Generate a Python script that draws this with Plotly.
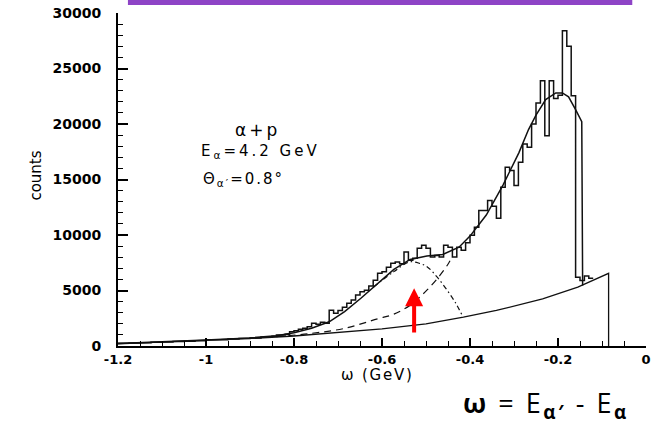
import plotly.graph_objects as go

# ---------------- data ----------------
# histogram: left bin edges (GeV) and counts
hist_left = [-1.200, -1.175, -1.150, -1.125, -1.100, -1.075, -1.050, -1.025,
             -1.000, -0.975, -0.950, -0.925, -0.900, -0.875,
             -0.85, -0.84, -0.83, -0.82, -0.81, -0.80, -0.79, -0.78, -0.77, -0.76,
             -0.75, -0.74, -0.73, -0.72, -0.71, -0.70, -0.69, -0.68, -0.67, -0.66,
             -0.65, -0.64, -0.63, -0.62, -0.61, -0.60, -0.59, -0.58, -0.57, -0.56,
             -0.55, -0.54, -0.53, -0.52, -0.51, -0.50, -0.49, -0.48, -0.47, -0.46,
             -0.45, -0.44, -0.43, -0.42, -0.41, -0.40, -0.39, -0.38, -0.37, -0.36,
             -0.35, -0.34, -0.33, -0.32, -0.31, -0.30, -0.29, -0.28, -0.27, -0.26,
             -0.25, -0.24, -0.23, -0.22, -0.21, -0.20, -0.19, -0.18, -0.17, -0.16,
             -0.15, -0.14, -0.13]
hist_counts = [240, 260, 300, 330, 370, 400, 430, 480,
               560, 570, 620, 680, 730, 800,
               880, 990, 990, 1050, 1290, 1380, 1500, 1600, 1730, 2060,
               1950, 2150, 2060, 3230, 2960, 3200, 3500, 3860, 4150, 4600,
               4880, 5030, 5400, 5930, 6550, 6700, 7100, 7450, 7570, 7400,
               8470, 7720, 7900, 8800, 9070, 8800, 8020, 8150, 8020, 9070,
               8900, 8020, 8900, 8620, 9300, 9970, 10700, 12200, 12200, 13100,
               12600, 11500, 14300, 16100, 15800, 14460, 16550, 18200, 17900, 20000,
               21900, 23900, 18950, 23900, 22300, 22600, 28400, 27000, 22550, 6200,
               5900, 6300, 6100]
hist_last_edge = -0.12

# fitted total curve
fit_omega = [-1.20, -1.10, -1.00, -0.90, -0.84, -0.80, -0.76, -0.72, -0.685, -0.648,
             -0.61, -0.573, -0.536, -0.498, -0.462, -0.425, -0.40, -0.363, -0.325,
             -0.289, -0.267, -0.25, -0.228, -0.205, -0.19, -0.176, -0.16, -0.146, -0.144]
fit_counts = [230, 360, 530, 730, 930, 1200, 1600, 2180, 3100, 4300,
              5650, 6900, 7800, 8100, 8250, 8900, 9900, 11800, 14500,
              17400, 19500, 20800, 22200, 22800, 22800, 22450, 21300, 20200, 5450]

# background curve
bg_omega = [-1.20, -1.10, -1.00, -0.90, -0.80, -0.70, -0.60, -0.50, -0.415, -0.34,
            -0.235, -0.155, -0.085, -0.085]
bg_counts = [200, 340, 500, 680, 900, 1200, 1550, 2000, 2600, 3200,
             4250, 5300, 6550, 0]

# dashed component (+ background)
dash_omega = [-0.84, -0.76, -0.685, -0.61, -0.573, -0.536, -0.498, -0.468, -0.448, -0.44]
dash_counts = [850, 1140, 1590, 2450, 2870, 3680, 5030, 6380, 7500, 8100]

# dash-dot component (+ background)
dd_omega = [-0.62, -0.573, -0.538, -0.515, -0.497, -0.475, -0.452, -0.432, -0.418]
dd_counts = [5300, 6700, 7570, 7450, 7120, 6220, 5030, 3830, 2780]

# red arrow marker
arrow_omega = -0.527
arrow_base = 1080
arrow_tip = 5200

x_tickvals = [-1.2, -1.0, -0.8, -0.6, -0.4, -0.2, 0.0]
x_ticktext = ["-1.2", "-1", "-0.8", "-0.6", "-0.4", "-0.2", "0"]
y_tickvals = [0, 5000, 10000, 15000, 20000, 25000, 30000]
y_ticktext = ["0", "5000", "10000", "15000", "20000", "25000", "30000"]

# ---------------- figure ----------------
INK = "#111111"
fig = go.Figure()

hx = hist_left + [hist_last_edge]
hy = hist_counts + [hist_counts[-1]]
fig.add_trace(go.Scatter(x=hx, y=hy, mode="lines", line=dict(color=INK, width=1.5, shape="hv"),
                         hoverinfo="skip", showlegend=False))
fig.add_trace(go.Scatter(x=fit_omega, y=fit_counts, mode="lines",
                         line=dict(color=INK, width=1.5), showlegend=False))
fig.add_trace(go.Scatter(x=bg_omega, y=bg_counts, mode="lines",
                         line=dict(color=INK, width=1.3), showlegend=False))
fig.add_trace(go.Scatter(x=dash_omega, y=dash_counts, mode="lines",
                         line=dict(color=INK, width=1.2, dash="7px,5px", shape="spline"),
                         showlegend=False))
fig.add_trace(go.Scatter(x=dd_omega, y=dd_counts, mode="lines",
                         line=dict(color=INK, width=1.2, dash="5px,3px,1.5px,3px", shape="spline"),
                         showlegend=False))

fig.add_annotation(x=arrow_omega, y=arrow_tip, ax=arrow_omega, ay=arrow_base,
                   xref="x", yref="y", axref="x", ayref="y", text="", showarrow=True,
                   arrowhead=2, arrowsize=0.9, arrowwidth=4, arrowcolor="#ff0000")

xtickfont = dict(family="DejaVu Sans", size=13, color="black", weight="bold")
ytickfont = dict(family="DejaVu Sans", size=14, color="black", weight="bold")
fig.update_xaxes(range=[-1.2, 0.0], showline=True, linecolor="black", linewidth=2,
                 ticks="inside", ticklen=8, tickwidth=1.5, tickcolor="black",
                 tickvals=x_tickvals, ticktext=x_ticktext, tickfont=xtickfont,
                 ticklabelstandoff=0,
                 minor=dict(ticks="inside", ticklen=5, tickwidth=1, tickcolor="black",
                            dtick=0.05, tick0=-1.2, showgrid=False),
                 showgrid=False, zeroline=False, mirror=False)
fig.update_yaxes(range=[0, 30000], showline=True, linecolor="black", linewidth=2,
                 ticks="inside", ticklen=10, tickwidth=1.5, tickcolor="black",
                 tickvals=y_tickvals, ticktext=y_ticktext, tickfont=ytickfont,
                 ticklabelstandoff=12,
                 minor=dict(ticks="inside", ticklen=5, tickwidth=1, tickcolor="black",
                            dtick=1000, tick0=0, showgrid=False),
                 showgrid=False, zeroline=False)

# purple bar at top
fig.add_shape(type="rect", xref="paper", yref="paper", x0=0.0188, x1=0.974,
              y0=1.024, y1=1.05, fillcolor="#8E44C6", line=dict(width=0), layer="above")

lab = dict(family="DejaVu Sans", color="black")
common = dict(xref="paper", yref="paper", showarrow=False, yanchor="middle")
fig.add_annotation(x=-0.157, y=0.512, text="counts", xanchor="center",
                   textangle=-90, font=dict(size=15, **lab), **common)
fig.add_annotation(x=0.4916, y=-0.0868, xanchor="center",
                   text="<span style='letter-spacing:1.8px'>ω (GeV)</span>",
                   font=dict(size=15, **lab), **common)
fig.add_annotation(x=0.2645, y=0.6497, xanchor="center",
                   text="<span style='letter-spacing:3px'>α+p</span>",
                   font=dict(size=17, **lab), **common)
fig.add_annotation(x=0.1538, y=0.5838, xanchor="left",
                   text="<span style='letter-spacing:3px'>E<sub>α</sub>=4.2 GeV</span>",
                   font=dict(size=15, **lab), **common)
fig.add_annotation(x=0.1576, y=0.50, xanchor="left",
                   text="<span style='letter-spacing:2px'>Θ<sub>α′</sub>=0.8°</span>",
                   font=dict(size=15, **lab), **common)
fig.add_annotation(x=0.8105, y=-0.1766, xanchor="center",
                   text="<span style='letter-spacing:2.5px'><b>ω</b> = E<sub><b>α′</b></sub> - E<sub><b>α</b></sub></span>",
                   font=dict(family="Open Sans", size=27, color="black"), **common)

fig.update_layout(width=656, height=424, margin=dict(l=118, r=5, t=12, b=78),
                  plot_bgcolor="white", paper_bgcolor="white", showlegend=False)

fig.write_html("out.html")
